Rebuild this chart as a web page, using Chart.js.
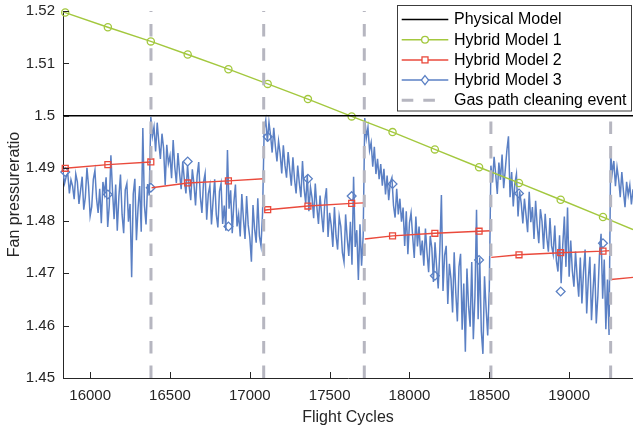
<!DOCTYPE html>
<html>
<head>
<meta charset="utf-8">
<script src="https://cdn.jsdelivr.net/npm/chart.js@4/dist/chart.umd.min.js"></script>
<style>
html,body{margin:0;padding:0;background:#fff;overflow:hidden;}
#wrap{width:633px;height:427px;position:relative;}
canvas{display:block;}
</style>
</head>
<body>
<div id="wrap"><canvas id="c" width="633" height="427"></canvas></div>
<script>
// ---------------- data ----------------
const xTicks = [16000, 16500, 17000, 17500, 18000, 18500, 19000];
const xTickLabels = ['16000', '16500', '17000', '17500', '18000', '18500', '19000'];
const yTicks = [1.45, 1.46, 1.47, 1.48, 1.49, 1.5, 1.51, 1.52];
const yTickLabels = ['1.45', '1.46', '1.47', '1.48', '1.49', '1.5', '1.51', '1.52'];

const legendLabels = ['Physical Model', 'Hybrid Model 1', 'Hybrid Model 2', 'Hybrid Model 3', 'Gas path cleaning event'];

const cleaningCycles = [16381, 17087, 17717, 18510, 19260];
const markerCycles = [15844, 16111, 16380, 16611, 16866, 17112, 17364, 17638, 17894, 18159, 18436, 18686, 18947, 19212];

const physicalCycles = [15830, 19400];
const physicalValues = [1.5, 1.5];

const hybrid1Cycles = [15830, 15844, 16111, 16380, 16611, 16866, 17112, 17364, 17638, 17894, 18159, 18436, 18686, 18947, 19212, 19400];
const hybrid1Values = [1.5199, 1.5197, 1.5169, 1.5142, 1.5117, 1.5089, 1.5061, 1.5032, 1.4999, 1.4969, 1.4936, 1.4902, 1.4872, 1.4840, 1.4807, 1.4783];

const hybrid2Cycles = [15830, 15844, 16111, 16380, 16381,
  16385, 16611, 16866, 17087, 17088,
  17090, 17112, 17364, 17638, 17717, 17718,
  17720, 17894, 18159, 18436, 18510, 18511,
  18512, 18686, 18947, 19212, 19260, 19261,
  19262, 19400];
const hybrid2Values = [1.4899, 1.4900, 1.4907, 1.4912, null,
  1.4863, 1.4872, 1.4876, 1.4880, null,
  1.4820, 1.4821, 1.4828, 1.4833, 1.4834, null,
  1.4765, 1.4771, 1.4776, 1.4780, 1.4781, null,
  1.4730, 1.4735, 1.4739, 1.4742, 1.4743, null,
  1.4688, 1.4692];

const hybrid3MarkerValues = [1.4893, 1.4850, 1.4863, 1.4913, 1.4789, 1.4960, 1.4880, 1.4847, 1.4870, 1.4695, 1.4725, 1.4852, 1.4665, 1.4757];

const hybrid3Step = 10;
const hybrid3Starts = [15830, 16380, 17090, 17720, 18510, 19260];
const hybrid3Seg1 = [
  1.4893, 1.4871, 1.4884, 1.4890, 1.4852, 1.4878, 1.4866, 1.4841, 1.4889, 1.4874,
  1.4832, 1.4858, 1.4884, 1.4821, 1.4845, 1.4901, 1.4866, 1.4809, 1.4827, 1.4879,
  1.4896, 1.4842, 1.4815, 1.4861, 1.4795, 1.4874, 1.4852, 1.4883, 1.4788, 1.4830,
  1.4925, 1.4857, 1.4803, 1.4869, 1.4781, 1.4846, 1.4888, 1.4812, 1.4776, 1.4859,
  1.4871, 1.4798, 1.4832, 1.4692, 1.4851, 1.4880, 1.4763, 1.4824, 1.4866, 1.4779,
  1.4977, 1.4829, 1.4793, 1.4870, 1.4848];
const hybrid3Seg2 = [
  1.4998, 1.4961, 1.4979, 1.4932, 1.4987, 1.4950, 1.4918, 1.4966, 1.4938, 1.4868,
  1.4945, 1.4909, 1.4924, 1.4881, 1.4954, 1.4903, 1.4872, 1.4929, 1.4891, 1.4860,
  1.4913, 1.4878, 1.4852, 1.4906, 1.4867, 1.4839, 1.4898, 1.4871, 1.4829, 1.4885,
  1.4912, 1.4846, 1.4815, 1.4873, 1.4890, 1.4802, 1.4851, 1.4867, 1.4793, 1.4838,
  1.4879, 1.4812, 1.4787, 1.4856, 1.4871, 1.4794, 1.4829, 1.4781, 1.4935, 1.4823,
  1.4858, 1.4776, 1.4834, 1.4869, 1.4789, 1.4812, 1.4770, 1.4851, 1.4803, 1.4765,
  1.4847, 1.4792, 1.4768, 1.4722, 1.4830, 1.4784, 1.4758, 1.4843, 1.4771, 1.4752, 1.4815];
const hybrid3Seg3 = [
  1.4975, 1.4992, 1.4951, 1.4988, 1.4963, 1.4930, 1.4977, 1.4942, 1.4913, 1.4952,
  1.4928, 1.4890, 1.4944, 1.4906, 1.4882, 1.4931, 1.4898, 1.4867, 1.4921, 1.4879,
  1.4852, 1.4905, 1.4872, 1.4845, 1.4914, 1.4861, 1.4833, 1.4887, 1.4818, 1.4864,
  1.4843, 1.4805, 1.4871, 1.4826, 1.4794, 1.4848, 1.4811, 1.4778, 1.4839, 1.4862,
  1.4769, 1.4815, 1.4791, 1.4750, 1.4826, 1.4771, 1.4745, 1.4808, 1.4789, 1.4739,
  1.4721, 1.4812, 1.4766, 1.4733, 1.4798, 1.4716, 1.4884, 1.4750, 1.4782, 1.4687,
  1.4793, 1.4714, 1.4771];
const hybrid3Seg4 = [
  1.4996, 1.4958, 1.4978, 1.4934, 1.4949, 1.4903, 1.4941, 1.4889, 1.4918, 1.4879,
  1.4908, 1.4867, 1.4899, 1.4850, 1.4886, 1.4839, 1.4873, 1.4882, 1.4829, 1.4806,
  1.4861, 1.4812, 1.4842, 1.4798, 1.4825, 1.4752, 1.4818, 1.4736, 1.4796, 1.4815,
  1.4770, 1.4729, 1.4808, 1.4751, 1.4789, 1.4734, 1.4762, 1.4714, 1.4785, 1.4739,
  1.4702, 1.4771, 1.4748, 1.4683, 1.4759, 1.4712, 1.4671, 1.4743, 1.4849, 1.4666,
  1.4734, 1.4752, 1.4641, 1.4718, 1.4689, 1.4625, 1.4740, 1.4663, 1.4608, 1.4712,
  1.4737, 1.4592, 1.4680, 1.4550, 1.4709, 1.4637, 1.4598, 1.4721, 1.4574, 1.4655,
  1.4821, 1.4612, 1.4730, 1.4589, 1.4546, 1.4694, 1.4632, 1.4581, 1.4671];
const hybrid3Seg5 = [
  1.4905, 1.4873, 1.4922, 1.4889, 1.4851, 1.4911, 1.4878, 1.4926, 1.4862, 1.4897,
  1.4934, 1.4961, 1.4845, 1.4893, 1.4827, 1.4871, 1.4889, 1.4808, 1.4856, 1.4833,
  1.4795, 1.4842, 1.4811, 1.4778, 1.4855, 1.4797, 1.4826, 1.4765, 1.4838, 1.4790,
  1.4757, 1.4822, 1.4799, 1.4746, 1.4813, 1.4768, 1.4741, 1.4805, 1.4752, 1.4736,
  1.4791, 1.4724, 1.4703, 1.4772, 1.4681, 1.4753, 1.4808, 1.4712, 1.4825, 1.4693,
  1.4762, 1.4704, 1.4674, 1.4741, 1.4693, 1.4655, 1.4730, 1.4642, 1.4702, 1.4745,
  1.4623, 1.4688, 1.4731, 1.4610, 1.4669, 1.4718, 1.4604, 1.4657, 1.4735, 1.4775,
  1.4651, 1.4726, 1.4593, 1.4688, 1.4582];
const hybrid3Seg6 = [
  1.4929, 1.4891, 1.4914, 1.4866, 1.4902, 1.4879, 1.4845, 1.4893, 1.4857, 1.4826,
  1.4874, 1.4849, 1.4868, 1.4831, 1.4860];

// ---------------- build ----------------
const COL_GREEN = '#a3c83e';
const COL_RED = '#ea4a3c';
const COL_BLUE = '#5b80c4';
const COL_GRAY = '#b6b6c0';
const COL_AXIS = '#262626';
const FONT = '"Liberation Sans", Arial, Helvetica, sans-serif';

const markerSet = new Set(markerCycles);
const pairs = (xs, ys) => xs.map((x, i) => ({x: x, y: ys[i]}));

const hybrid3Segs = [hybrid3Seg1, hybrid3Seg2, hybrid3Seg3, hybrid3Seg4, hybrid3Seg5, hybrid3Seg6];
const hybrid3Data = [];
hybrid3Segs.forEach((seg, s) => {
  seg.forEach((v, i) => hybrid3Data.push({x: hybrid3Starts[s] + i * hybrid3Step, y: v}));
});

const markerRadius = (r) => (ctx) => (ctx.raw && markerSet.has(ctx.raw.x) ? r : 0);

const cleaningPlugin = {
  id: 'cleaning',
  afterDatasetsDraw(chart) {
    const {ctx, chartArea: {top, bottom}, scales: {x}} = chart;
    ctx.save();
    ctx.strokeStyle = COL_GRAY;
    ctx.lineWidth = 3;
    ctx.setLineDash([12.5, 11.9]);
    cleaningCycles.forEach(c => {
      const px = x.getPixelForValue(c);
      ctx.beginPath();
      ctx.moveTo(px, bottom);
      ctx.lineTo(px, top);
      ctx.stroke();
    });
    ctx.restore();
  }
};

const ticksPlugin = {
  id: 'inTicks',
  afterDraw(chart) {
    const {ctx, chartArea: {left, bottom}, scales: {x, y}} = chart;
    ctx.save();
    ctx.strokeStyle = COL_AXIS;
    ctx.lineWidth = 1;
    ctx.beginPath();
    xTicks.forEach(v => {
      const px = Math.round(x.getPixelForValue(v)) + 0.5;
      ctx.moveTo(px, bottom);
      ctx.lineTo(px, bottom - 6);
    });
    yTicks.forEach(v => {
      const py = Math.round(y.getPixelForValue(v)) + 0.5;
      ctx.moveTo(left, py);
      ctx.lineTo(left + 6, py);
    });
    ctx.stroke();
    ctx.restore();
  }
};

const legendPlugin = {
  id: 'mlegend',
  afterDraw(chart) {
    const ctx = chart.ctx;
    const bx = 397.5, by = 5.5, bw = 234, bh = 105.5;
    ctx.save();
    ctx.fillStyle = '#ffffff';
    ctx.fillRect(bx, by, bw, bh);
    ctx.strokeStyle = '#3c3c3c';
    ctx.lineWidth = 1;
    ctx.strokeRect(bx, by, bw, bh);
    const x0 = 401.7, x1 = 448.3, xm = (x0 + x1) / 2;
    const ys = [19.5, 39.7, 59.9, 80.1, 100.3];
    const cols = ['#000000', COL_GREEN, COL_RED, COL_BLUE, COL_GRAY];
    ys.forEach((yy, i) => {
      ctx.strokeStyle = cols[i];
      if (i < 4) {
        ctx.lineWidth = 1.5;
        ctx.setLineDash([]);
        ctx.beginPath();
        ctx.moveTo(x0, yy);
        ctx.lineTo(x1, yy);
        ctx.stroke();
      } else {
        ctx.lineWidth = 3;
        ctx.setLineDash([11.6, 10]);
        ctx.beginPath();
        ctx.moveTo(x0, yy);
        ctx.lineTo(436, yy);
        ctx.stroke();
        ctx.setLineDash([]);
      }
      ctx.lineWidth = 1.3;
      if (i === 1) {
        ctx.fillStyle = '#ffffff';
        ctx.beginPath();
        ctx.arc(xm, yy, 3.4, 0, Math.PI * 2);
        ctx.fill();
        ctx.stroke();
      } else if (i === 2) {
        ctx.fillStyle = '#ffffff';
        ctx.fillRect(xm - 3, yy - 3, 6, 6);
        ctx.strokeRect(xm - 3, yy - 3, 6, 6);
      } else if (i === 3) {
        ctx.fillStyle = '#ffffff';
        ctx.beginPath();
        ctx.moveTo(xm, yy - 4.5); ctx.lineTo(xm + 3.6, yy); ctx.lineTo(xm, yy + 4.5); ctx.lineTo(xm - 3.6, yy); ctx.closePath();
        ctx.fill();
        ctx.stroke();
      }
      ctx.fillStyle = '#000000';
      ctx.font = '16px ' + FONT;
      ctx.textBaseline = 'middle';
      ctx.textAlign = 'left';
      ctx.fillText(legendLabels[i], 454, yy + 0.5);
    });
    ctx.restore();
  }
};

const zeroPad = (s) => { s.paddingTop = 0; s.paddingBottom = 0; s.paddingLeft = 0; s.paddingRight = 0; };

const chart = new Chart(document.getElementById('c'), {
  type: 'line',
  data: {
    datasets: [
      {
        label: legendLabels[0],
        data: pairs(physicalCycles, physicalValues),
        borderColor: '#000000', borderWidth: 1.5, pointRadius: 0, order: 1
      },
      {
        label: legendLabels[1],
        data: pairs(hybrid1Cycles, hybrid1Values),
        borderColor: COL_GREEN, borderWidth: 1.4,
        pointStyle: 'circle', pointRadius: markerRadius(3.6), pointBorderWidth: 1.3,
        pointBackgroundColor: 'rgba(255,255,255,0)', pointBorderColor: COL_GREEN,
        order: 2, clip: {left: 8, top: 8, right: 0, bottom: 0}
      },
      {
        label: legendLabels[2],
        data: pairs(hybrid2Cycles, hybrid2Values),
        borderColor: COL_RED, borderWidth: 1.4, spanGaps: false,
        pointStyle: 'rect', pointRadius: markerRadius(4.2), pointBorderWidth: 1.3,
        pointBackgroundColor: 'rgba(255,255,255,0)', pointBorderColor: COL_RED,
        order: 3, clip: {left: 8, top: 8, right: 0, bottom: 0}
      },
      {
        label: legendLabels[3] + ' markers',
        data: pairs(markerCycles, hybrid3MarkerValues),
        showLine: false, borderColor: COL_BLUE,
        pointStyle: 'rectRot', pointRadius: 4.4, pointBorderWidth: 1.3,
        pointBackgroundColor: 'rgba(255,255,255,0)', pointBorderColor: COL_BLUE,
        order: 4, clip: {left: 8, top: 8, right: 0, bottom: 0}
      },
      {
        label: legendLabels[3],
        data: hybrid3Data,
        borderColor: COL_BLUE, borderWidth: 1.5, pointRadius: 0,
        order: 5
      }
    ]
  },
  options: {
    responsive: false,
    animation: false,
    events: [],
    layout: {autoPadding: false, padding: {top: 11, right: 0, left: 0, bottom: 0}},
    plugins: {legend: {display: false}, tooltip: {enabled: false}},
    elements: {line: {tension: 0}},
    scales: {
      x: {
        type: 'linear', min: 15830, max: 19400,
        afterBuildTicks: s => { s.ticks = xTicks.map(v => ({value: v})); },
        afterFit: s => { s.height = 49; zeroPad(s); },
        grid: {display: false, drawTicks: false},
        border: {display: true, color: COL_AXIS, width: 1},
        ticks: {
          callback: (v, i) => xTickLabels[i],
          color: COL_AXIS, font: {family: FONT, size: 15}, padding: 9, maxRotation: 0
        },
        title: {display: true, text: 'Flight Cycles', color: COL_AXIS, font: {family: FONT, size: 16}, padding: {top: 0, bottom: 0}}
      },
      y: {
        type: 'linear', min: 1.45, max: 1.52,
        afterBuildTicks: s => { s.ticks = yTicks.map(v => ({value: v})); },
        afterFit: s => { s.width = 63; zeroPad(s); },
        grid: {display: false, drawTicks: false},
        border: {display: true, color: COL_AXIS, width: 1},
        ticks: {
          callback: (v, i) => yTickLabels[i],
          color: COL_AXIS, font: {family: FONT, size: 15}, padding: 8
        },
        title: {display: true, text: 'Fan pressureratio', color: COL_AXIS, font: {family: FONT, size: 16}, padding: {top: 5, bottom: 0}}
      }
    }
  },
  plugins: [cleaningPlugin, ticksPlugin, legendPlugin]
});
</script>
</body>
</html>
